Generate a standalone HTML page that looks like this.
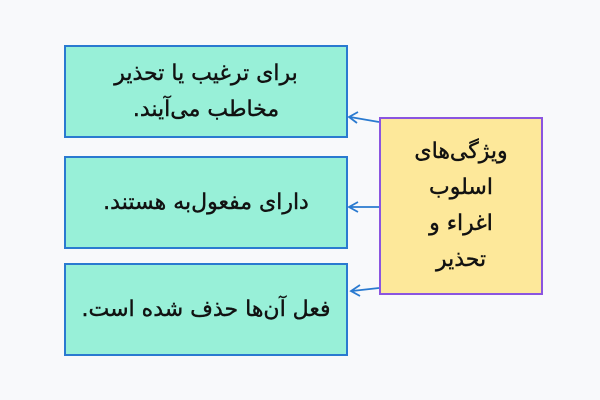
<!DOCTYPE html>
<html><head><meta charset="utf-8"><style>
body{margin:0;width:600px;height:400px;background:#f8f9fb;position:relative;overflow:hidden;font-family:"DejaVu Sans","Noto Sans CJK SC",sans-serif;}
.b{position:absolute;box-sizing:border-box;display:flex;align-items:center;justify-content:center;text-align:center;direction:rtl;font-size:22px;line-height:36px;color:#111;-webkit-text-stroke:0.4px #111;}
.t{left:64px;width:284px;height:93px;background:#98f0d8;border:2px solid #2a7ad0;}
.y{left:379px;top:117px;width:164px;height:178px;background:#fde89a;border:2px solid #8b55e0;line-height:36px;}
</style></head><body>
<div class="b t" style="top:45px">برای ترغیب یا تحذیر<br>مخاطب می‌آیند.</div>
<div class="b t" style="top:156px">دارای مفعول‌به هستند.</div>
<div class="b t" style="top:263px">فعل آن‌ها حذف شده است.</div>
<div class="b y">ویژگی‌های<br>اسلوب<br>اغراء و<br>تحذیر</div>
<svg width="600" height="400" style="position:absolute;left:0;top:0" fill="none" stroke="#2a7ad0" stroke-width="1.8">
<path d="M379 122 L350 117 M358 112 L349 117 L357 123"/>
<path d="M379 207 L350 207 M358 202 L349 207 L358 212"/>
<path d="M379 288 L352 291 M360 285 L351 291 L360 296"/>
</svg>
</body></html>
